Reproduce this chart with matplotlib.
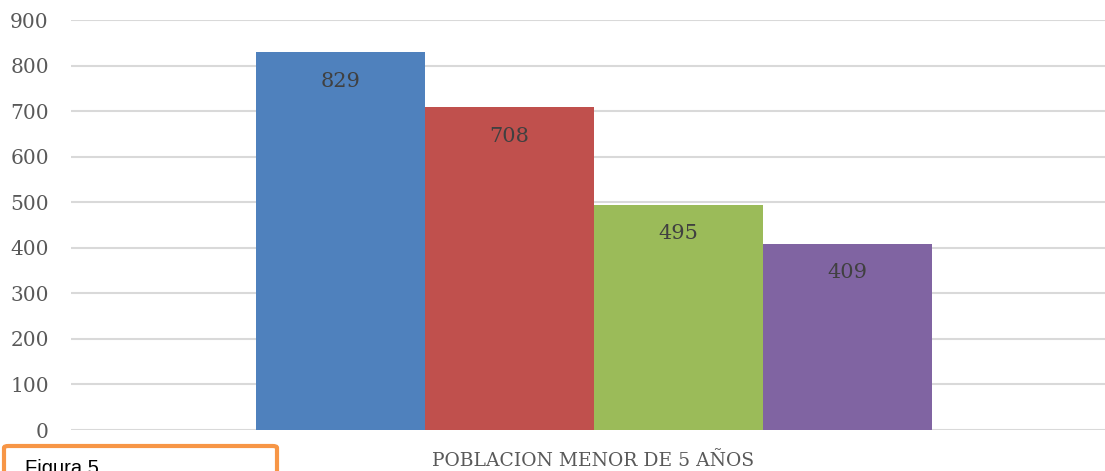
import matplotlib.pyplot as plt
from matplotlib.patches import FancyBboxPatch

plt.rcParams['font.family'] = ['DejaVu Serif']

# datos
categoria = 'POBLACION MENOR DE 5 AÑOS'
valores = [829, 708, 495, 409]
colores = ['#4F81BD', '#C0504D', '#9BBB59', '#8064A2']
ticks_y = [0, 100, 200, 300, 400, 500, 600, 700, 800, 900]

fig = plt.figure(figsize=(11.05, 4.71), dpi=100)
ax = fig.add_axes([71 / 1105, 41 / 471, 1 - 71 / 1105, 410 / 471])

x = range(len(valores))
barras = ax.bar(x, valores, width=1.0, color=colores, zorder=3)
for b, v in zip(barras, valores):
    ax.annotate(str(v), (b.get_x() + b.get_width() / 2, v), xytext=(0, -21),
                textcoords='offset points', ha='center', va='center',
                fontsize=15, color='#404040', zorder=4)

ax.set_xlim(-0.5 - 185 / 169, -0.5 + 849 / 169)
ax.set_ylim(0, 900)
ax.set_yticks(ticks_y)
ax.set_yticklabels([str(t) for t in ticks_y], fontsize=14.5, color='#595959')
ax.tick_params(axis='y', length=0, pad=16)
ax.set_xticks([])
ax.grid(axis='y', color='#D9D9D9', linewidth=1.5, zorder=0)
for s in ax.spines.values():
    s.set_visible(False)
ax.set_axisbelow(True)

# etiqueta de categoria
fig.text(593 / 1105, 1 - 461 / 471, categoria, ha='center', va='center',
         fontsize=13.5, color='#595959')

# recuadro "Figura 5"
caja = FancyBboxPatch((4 / 1105, -20 / 471), 273 / 1105, 45 / 471,
                      boxstyle='round,pad=0,rounding_size=0.004',
                      transform=fig.transFigure, facecolor='white',
                      edgecolor='#F79646', linewidth=3, clip_on=False)
fig.add_artist(caja)
fig.text(25 / 1105, 1 - 468 / 471, 'Figura 5', ha='left', va='center',
         fontsize=14.5, color='black', family=['Liberation Sans', 'DejaVu Sans'])

fig.savefig('out.png', dpi=100)
